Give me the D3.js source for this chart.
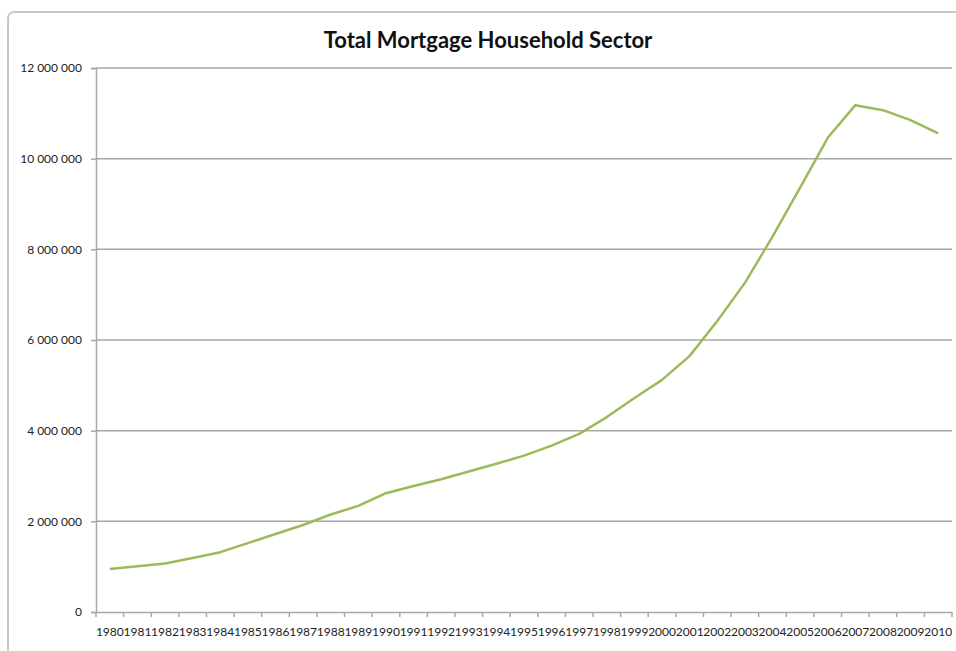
<!DOCTYPE html>
<html><head><meta charset="utf-8">
<script src="https://cdn.jsdelivr.net/npm/d3@7"></script>
<style>body{margin:0;background:#fff}svg{display:block}</style>
</head><body><svg id="c" width="956" height="651"></svg>
<script>
const years = ["1980","1981","1982","1983","1984","1985","1986","1987","1988","1989","1990","1991","1992","1993","1994","1995","1996","1997","1998","1999","2000","2001","2002","2003","2004","2005","2006","2007","2008","2009","2010"];
const mortgage = [950000,1010000,1070000,1190000,1320000,1520000,1720000,1920000,2150000,2340000,2620000,2780000,2930000,3100000,3270000,3450000,3670000,3930000,4300000,4720000,5120000,5650000,6420000,7260000,8280000,9360000,10460000,11180000,11070000,10850000,10560000];
const yTicks = [0,2000000,4000000,6000000,8000000,10000000,12000000];

const svg = d3.select("#c");
const m = {l:96, r:952, t:68, b:612};
const font = "Lato, 'Open Sans', sans-serif";

svg.append("rect").attr("x",8).attr("y",12).attr("width",980).attr("height",700)
  .attr("rx",6).attr("fill","none").attr("stroke","#c8c8c8").attr("stroke-width",2);

const x = d3.scaleBand().domain(years).range([m.l,m.r]).padding(0);
const y = d3.scaleLinear().domain([0,12000000]).range([m.b,m.t]);

const fmt = v => d3.format(",")(v).replace(/,/g," ");

// gridlines
svg.append("g").selectAll("line").data(yTicks.filter(d=>d>0)).join("line")
  .attr("x1",m.l).attr("x2",m.r).attr("y1",d=>y(d)).attr("y2",d=>y(d))
  .attr("stroke","#a8a8a8").attr("stroke-width",1.5);

// y axis
const ya = svg.append("g").attr("transform",`translate(${m.l},0)`)
  .call(d3.axisLeft(y).tickValues(yTicks).tickFormat(fmt).tickSize(5).tickPadding(9));
ya.select(".domain").attr("stroke","#a8a8a8").attr("stroke-width",1.5);
ya.selectAll(".tick line").attr("stroke","#a8a8a8").attr("stroke-width",1.5);
ya.selectAll("text").attr("font-family",font).attr("font-size",12).attr("fill","#222");

// x axis
const xa = svg.append("g").attr("transform",`translate(0,${m.b})`)
  .call(d3.axisBottom(x).tickSize(0).tickPadding(15));
xa.select(".domain").attr("stroke","#a8a8a8").attr("stroke-width",1.5);
xa.selectAll("text").attr("font-family",font).attr("font-size",12).attr("fill","#222");
svg.append("g").selectAll("line").data(years).join("line")
  .attr("x1",d=>x(d)).attr("x2",d=>x(d)).attr("y1",m.b).attr("y2",m.b+5)
  .attr("stroke","#a8a8a8").attr("stroke-width",1.5);
svg.append("line").attr("x1",m.r).attr("x2",m.r).attr("y1",m.b).attr("y2",m.b+5)
  .attr("stroke","#a8a8a8").attr("stroke-width",1.5);

// line
const line = d3.line().x((d,i)=>x(years[i])+x.bandwidth()/2).y(d=>y(d));
svg.append("path").datum(mortgage).attr("d",line).attr("fill","none")
  .attr("stroke","#9bbb59").attr("stroke-width",2.5).attr("stroke-linejoin","round");

// title
svg.append("text").attr("x",488).attr("y",48).attr("text-anchor","middle")
  .attr("font-family",font).attr("font-weight","bold").attr("font-size",22).attr("fill","#111")
  .text("Total Mortgage Household Sector");
</script></body></html>
